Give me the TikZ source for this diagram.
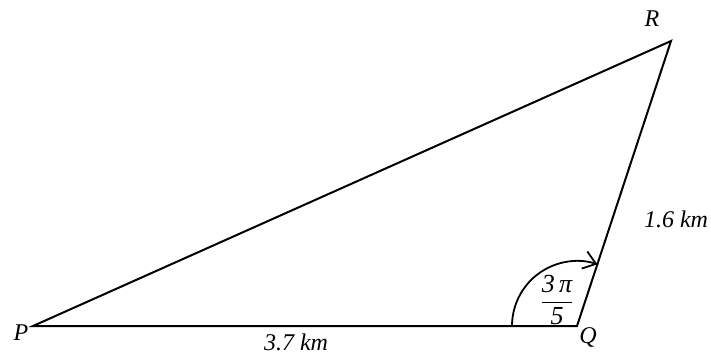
\documentclass[tikz,border=0pt]{standalone}
\usepackage{amsmath}
\usepackage{fontspec}
\setmainfont{Liberation Serif}
\usetikzlibrary{arrows.meta, calc}
\tikzset{
    lado/.style={draw=black, line width=1pt, line join=miter},
    rotulo/.style={font=\fontsize{12}{14}\selectfont\itshape, inner sep=0pt},
    angulo/.style={draw=black, line width=0.9pt, -{Straight Barb[length=6pt, width=9pt]}}
}

\begin{document}
\begin{tikzpicture}[x=0.5pt, y=0.5pt]
    \useasboundingbox (0,0) rectangle (711,-355);
    \coordinate (P) at (33,-326);
    \coordinate (Q) at (577,-326);
    \coordinate (R) at (671,-41);
    \draw[lado] (P) -- (Q) -- (R) -- cycle;
    \draw[angulo] ($(Q)+(-65,0)$) arc[start angle=180, end angle=71.75, radius=65];
    \node[rotulo] (rP) at (21,-333) {P};
    \node[rotulo] (rQ) at (588,-337) {Q};
    \node[rotulo] (rR) at (652,-19) {R};
    \node[rotulo] (lPQ) at (296,-342) {3.7 km};
    \node[rotulo] (lQR) at (676,-219) {1.6 km};
    \node[rotulo, font=\fontsize{13}{15}\selectfont\itshape] (ang) at (557,-300) {$\dfrac{\hbox{3\,π}}{\hbox{5}}$};
\end{tikzpicture}
\end{document}
